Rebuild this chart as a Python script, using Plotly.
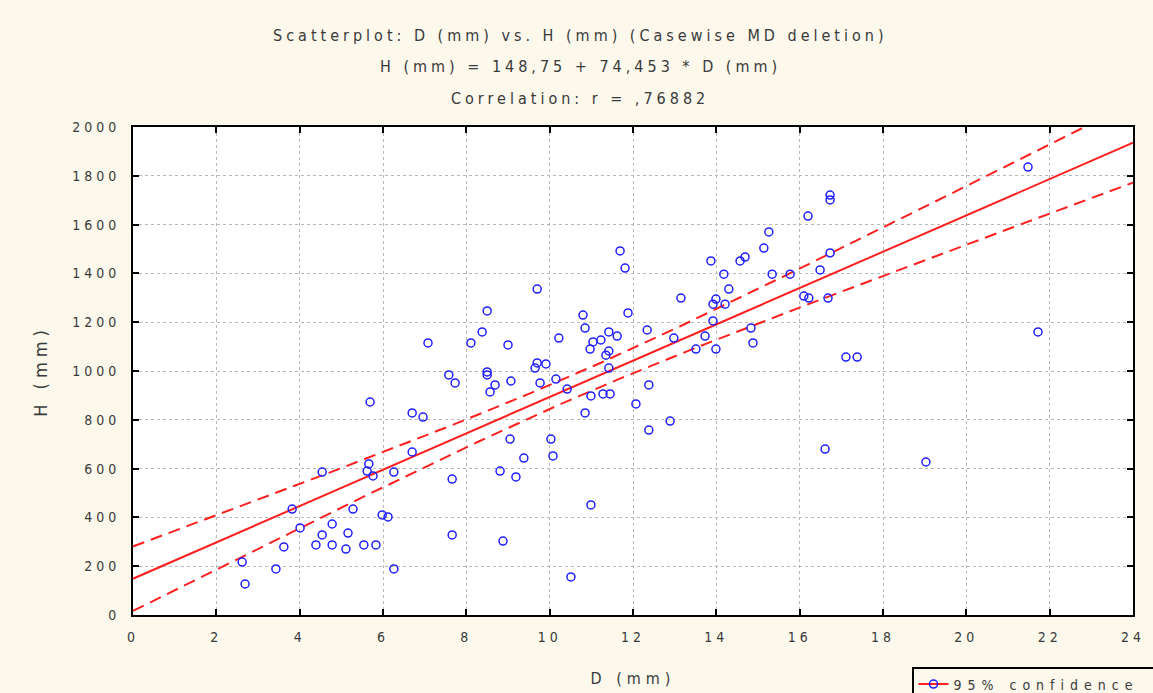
import numpy as np
import plotly.graph_objects as go

# ---- data ----
D_mm = [2.62, 2.69, 3.43, 3.62, 3.82, 4.01, 4.39, 4.54, 4.54, 4.78, 4.78, 5.11, 5.16, 5.28,
        5.54, 5.62, 5.66, 5.76, 5.83, 5.98, 6.12, 6.26, 6.26, 5.69, 6.70, 6.96, 6.70, 7.66,
        7.66, 7.73,
        7.08, 7.58, 8.11, 8.38, 8.50, 8.50, 8.50, 8.57, 8.69, 8.81, 8.88, 9.00, 9.05, 9.07,
        9.19, 9.38, 9.65, 9.70, 9.70, 9.77, 9.91, 10.03, 10.08, 10.15, 10.22, 10.42, 10.51,
        10.80, 10.85, 10.85, 10.97, 10.99, 10.99, 11.04, 11.23, 11.28, 11.35, 11.42, 11.42,
        11.42, 11.45, 11.62, 11.69, 11.81, 11.88, 12.07, 12.34, 12.38, 12.38, 12.89, 12.98,
        13.15, 13.51, 13.73, 13.87, 13.92, 13.92, 13.99, 13.99, 14.18, 14.21, 14.30, 14.57,
        14.69, 14.83, 14.88, 15.14, 15.26, 15.34, 15.77, 16.10, 16.22, 16.20, 16.49, 16.61,
        16.68, 16.73, 16.73, 16.73, 17.11, 17.38, 19.03, 21.48, 21.72]
H_mm = [217, 127, 189, 279, 434, 357, 287, 586, 328, 373, 287, 270, 336, 434,
        287, 590, 619, 570, 287, 410, 402, 586, 189, 873, 828, 811, 668, 557,
        328, 951,
        1115, 984, 1115, 1160, 1246, 996, 984, 914, 943, 590, 303, 1107, 721, 959,
        566, 643, 1012, 1033, 1336, 951, 1029, 721, 652, 967, 1135, 926, 156,
        1229, 1176, 828, 1090, 898, 451, 1119, 1127, 906, 1065, 1160, 1082,
        1012, 906, 1143, 1492, 1422, 1238, 865, 1168, 943, 758, 795, 1135,
        1299, 1090, 1143, 1451, 1274, 1205, 1295, 1090, 1397, 1274, 1336, 1451,
        1467, 1176, 1115, 1504, 1570, 1397, 1397, 1307, 1299, 1635, 1414, 680,
        1299, 1484, 1701, 1721, 1057, 1057, 627, 1836, 1160]

INTERCEPT = 148.75
SLOPE = 74.453
R_VALUE = ",76882"

x_ticks = list(range(0, 25, 2))
y_ticks = list(range(0, 2001, 200))

# ---- regression line and 95% confidence band ----
xd = np.array(D_mm, dtype=float)
yd = np.array(H_mm, dtype=float)
n = len(xd)
resid = yd - (INTERCEPT + SLOPE * xd)
s = np.sqrt(np.sum(resid ** 2) / (n - 2))
xbar = xd.mean()
sxx = np.sum((xd - xbar) ** 2)
t_crit = 1.98
xg = np.linspace(0, 24, 200)
yg = INTERCEPT + SLOPE * xg
half = t_crit * s * np.sqrt(1.0 / n + (xg - xbar) ** 2 / sxx)

RED = "#ff2020"
BLUE = "#2020ff"
FONT = "Liberation Sans Narrow, DejaVu Sans Condensed, Liberation Sans, sans-serif"
TXT = "#3a3a3a"

fig = go.Figure()
fig.add_trace(go.Scatter(x=xg, y=yg, mode="lines", line=dict(color=RED, width=2),
                         showlegend=False, hoverinfo="skip"))
fig.add_trace(go.Scatter(x=xg, y=yg + half, mode="lines",
                         line=dict(color=RED, width=2, dash="12px,7px"),
                         showlegend=False, hoverinfo="skip"))
fig.add_trace(go.Scatter(x=xg, y=yg - half, mode="lines",
                         line=dict(color=RED, width=2, dash="12px,7px"),
                         showlegend=False, hoverinfo="skip"))
fig.add_trace(go.Scatter(x=D_mm, y=H_mm, mode="markers",
                         marker=dict(symbol="circle-open", size=8, color=BLUE,
                                     line=dict(width=1.5, color=BLUE)),
                         showlegend=False))
fig.add_trace(go.Scatter(x=[None], y=[None], mode="lines+markers", name="95% confidence",
                         line=dict(color=RED, width=2),
                         marker=dict(symbol="circle-open", size=8, color=BLUE,
                                     line=dict(width=1.5, color=BLUE))))

axis_common = dict(showline=True, linecolor="black", linewidth=2, mirror="ticks",
                   ticks="inside", ticklen=6, tickwidth=2, tickcolor="black",
                   showgrid=True, gridcolor="#b8b8b8", griddash="dot", gridwidth=1,
                   zeroline=False, ticklabelstandoff=8,
                   tickfont=dict(family=FONT, size=14, color=TXT))

fig.update_xaxes(range=[0, 24], tickvals=x_ticks, **axis_common,
                 title=dict(text="D (mm)", font=dict(family=FONT, size=16, color=TXT),
                            standoff=29))
fig.update_yaxes(range=[0, 2000], tickvals=y_ticks, **axis_common,
                 title=dict(text="H (mm)", font=dict(family=FONT, size=18, color=TXT),
                            standoff=36))

titles = [
    ("Scatterplot: D (mm) vs. H (mm) (Casewise MD deletion)", 1.1885),
    (f"H (mm) = {INTERCEPT:.2f}".replace(".", ",") + f" + {SLOPE:.3f}".replace(".", ",") + " * D (mm)", 1.123),
    (f"Correlation: r = {R_VALUE}", 1.0594),
]
for text, ypos in titles:
    fig.add_annotation(text=text, xref="paper", yref="paper", x=0.447, y=ypos,
                       showarrow=False, xanchor="center", yanchor="middle",
                       font=dict(family=FONT, size=16, color=TXT))

fig.update_layout(
    width=1153, height=693,
    margin=dict(l=133, r=20, t=127, b=78, autoexpand=False),
    paper_bgcolor="#fcf8ec", plot_bgcolor="white",
    legend=dict(orientation="h", x=0.779, y=-0.1066, xanchor="left", yanchor="top",
                bordercolor="black", borderwidth=1.5, bgcolor="#fcf8ec",
                entrywidth=300, entrywidthmode="pixels",
                font=dict(family=FONT, size=14, color=TXT)),
)

# Letter spacing as in the reference's typography
css = (".annotation-text{letter-spacing:4px}"
       " .xtick text,.ytick text{letter-spacing:4px}"
       " .xtitle,.ytitle{letter-spacing:5px}"
       " .legendtext{letter-spacing:6px}")
post = ("var st=document.createElement('style');st.innerHTML='" + css + "';"
        "document.head.appendChild(st);")

fig.write_html("out.html", post_script=post)
